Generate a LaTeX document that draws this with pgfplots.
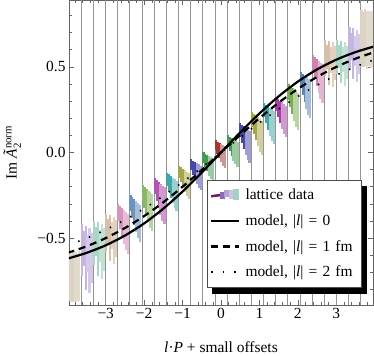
\documentclass[border=0pt]{standalone}
\usepackage{fontspec}
\setmainfont{Liberation Serif}
\usepackage{amsmath}
\usepackage{pgfplots}
\pgfplotsset{compat=1.18}

\definecolor{c0}{RGB}{150,20,20}
\definecolor{c1}{RGB}{30,140,50}
\definecolor{c2}{RGB}{40,40,150}
\definecolor{c3}{RGB}{150,150,40}
\definecolor{c4}{RGB}{30,150,150}
\definecolor{c5}{RGB}{150,30,150}
\definecolor{c6}{RGB}{100,160,50}
\definecolor{c7}{RGB}{60,110,170}
\definecolor{c8}{RGB}{190,90,150}
\definecolor{c9}{RGB}{180,140,100}
\definecolor{c10}{RGB}{100,180,150}
\definecolor{c11}{RGB}{150,120,200}
\definecolor{c12}{RGB}{190,175,145}
\definecolor{frame}{RGB}{100,100,100}

\newcommand{\fs}{\fontsize{15.5}{18}\selectfont}

\pgfplotsset{
  dat/.style={draw=none, mark=none, forget plot,
    error bars/.cd, y dir=both, y explicit, error mark=none,
    error bar style={line width=2.2bp, draw=#1, solid}},
}

\begin{document}
\begin{tikzpicture}
\useasboundingbox (-69bp,-51bp) rectangle (305bp,305bp);
\begin{axis}[
  scale only axis, width=304bp, height=305bp,
  xmin=-3.956, xmax=3.956, ymin=-0.89, ymax=0.89,
  axis line style={frame, line width=0.8bp},
  tick align=inside, major tick length=5bp, minor tick length=3bp,
  tick style={frame, line width=0.6bp},
  xtick={-3,...,3}, xticklabels={−3,−2,−1,0,1,2,3},
  ytick={-0.5,0,0.5}, yticklabels={−0.5,0.0,0.5},
  minor xtick={-3.8,-3.6,...,3.8},
  minor ytick={-0.8,-0.7,...,0.8},
  extra x ticks={-3.640,-3.323,-3.007,-2.690,-2.374,-2.057,-1.741,-1.424,-1.108,-0.791,-0.475,-0.158,
                 0.158,0.475,0.791,1.108,1.424,1.741,2.057,2.374,2.690,3.007,3.323,3.640},
  extra x tick labels={},
  extra x tick style={grid=major, major tick length=0pt,
    major grid style={black!42, line width=0.8bp}},
  tick label style={font=\fs},
  label style={font=\fs},
  xlabel={\textit{l}·\textit{P} + small offsets},
  ylabel={Im \textit{Ã}$_{\text{2}}^{\text{norm}}$},
  xlabel style={at={(axis description cs:0.5,-0.138)}, anchor=center},
  ylabel style={at={(axis description cs:-0.187,0.5)}, anchor=center},
  legend cell align=left,
  legend image code/.code={\draw[#1] (0bp,0bp) -- (28bp,0bp);},
  legend style={at={(axis description cs:0.454,0.41)}, anchor=north west,
    draw=black!70, line width=0.6bp, fill=white, font=\fs,
    inner xsep=3bp, inner ysep=7bp, row sep=9.3bp,
    text width=111bp,
    /tikz/every odd column/.append style={column sep=3bp}},
]

% lattice data, right half
\addplot[dat=c0!85] coordinates {(-0.14,0.042) +- (0,0.028) (-0.09,0.027) +- (0,0.037) (-0.04,0.012) +- (0,0.046)};
\addplot[dat=c0!45] coordinates {(0.01,-0.004) +- (0,0.054) (0.06,-0.016) +- (0,0.061) (0.11,-0.026) +- (0,0.064)};
\addplot[dat=c1!85] coordinates {(0.177,0.068) +- (0,0.032) (0.227,0.050) +- (0,0.043) (0.277,0.033) +- (0,0.053)};
\addplot[dat=c1!45] coordinates {(0.327,0.015) +- (0,0.063) (0.377,0.000) +- (0,0.070) (0.427,-0.011) +- (0,0.074)};
\addplot[dat=c2!85] coordinates {(0.493,0.130) +- (0,0.040) (0.543,0.108) +- (0,0.053) (0.593,0.086) +- (0,0.066)};
\addplot[dat=c2!45] coordinates {(0.643,0.064) +- (0,0.078) (0.693,0.046) +- (0,0.087) (0.743,0.032) +- (0,0.092)};
\addplot[dat=c3!85] coordinates {(0.810,0.191) +- (0,0.044) (0.860,0.168) +- (0,0.058) (0.910,0.144) +- (0,0.071)};
\addplot[dat=c3!45] coordinates {(0.960,0.120) +- (0,0.085) (1.010,0.100) +- (0,0.095) (1.060,0.085) +- (0,0.100)};
\addplot[dat=c4!85] coordinates {(1.126,0.248) +- (0,0.042) (1.176,0.225) +- (0,0.055) (1.226,0.202) +- (0,0.068)};
\addplot[dat=c4!45] coordinates {(1.276,0.180) +- (0,0.082) (1.326,0.160) +- (0,0.091) (1.376,0.146) +- (0,0.096)};
\addplot[dat=c5!85] coordinates {(1.443,0.280) +- (0,0.040) (1.493,0.258) +- (0,0.053) (1.543,0.236) +- (0,0.066)};
\addplot[dat=c5!45] coordinates {(1.593,0.214) +- (0,0.078) (1.643,0.196) +- (0,0.087) (1.693,0.182) +- (0,0.092)};
\addplot[dat=c6!85] coordinates {(1.759,0.353) +- (0,0.047) (1.809,0.327) +- (0,0.062) (1.859,0.301) +- (0,0.077)};
\addplot[dat=c6!45] coordinates {(1.909,0.276) +- (0,0.092) (1.959,0.254) +- (0,0.103) (2.009,0.238) +- (0,0.108)};
\addplot[dat=c7!85] coordinates {(2.076,0.423) +- (0,0.047) (2.126,0.397) +- (0,0.062) (2.176,0.371) +- (0,0.077)};
\addplot[dat=c7!45] coordinates {(2.226,0.346) +- (0,0.092) (2.276,0.324) +- (0,0.103) (2.326,0.308) +- (0,0.108)};
\addplot[dat=c8!75] coordinates {(2.392,0.521) +- (0,0.049) (2.442,0.494) +- (0,0.064) (2.492,0.468) +- (0,0.080)};
\addplot[dat=c8!45] coordinates {(2.542,0.441) +- (0,0.095) (2.592,0.419) +- (0,0.106) (2.642,0.402) +- (0,0.112)};
\addplot[dat=c9!55] coordinates {(2.709,0.552) +- (0,0.103) (2.759,0.559) +- (0,0.069) (2.809,0.522) +- (0,0.128)};
\addplot[dat=c9!40] coordinates {(2.859,0.538) +- (0,0.076) (2.909,0.511) +- (0,0.131) (2.959,0.522) +- (0,0.100)};
\addplot[dat=c10!55] coordinates {(3.025,0.556) +- (0,0.099) (3.075,0.562) +- (0,0.066) (3.125,0.527) +- (0,0.123)};
\addplot[dat=c10!40] coordinates {(3.175,0.542) +- (0,0.073) (3.225,0.516) +- (0,0.126) (3.275,0.527) +- (0,0.097)};
\addplot[dat=c11!55] coordinates {(3.342,0.610) +- (0,0.120) (3.392,0.618) +- (0,0.080) (3.442,0.575) +- (0,0.149)};
\addplot[dat=c11!40] coordinates {(3.492,0.594) +- (0,0.088) (3.542,0.562) +- (0,0.152) (3.592,0.575) +- (0,0.117)};
\addplot[dat=c12!55] coordinates {(3.658,0.665) +- (0,0.165) (3.708,0.660) +- (0,0.160) (3.758,0.670) +- (0,0.165)};
\addplot[dat=c12!45] coordinates {(3.808,0.655) +- (0,0.170) (3.858,0.665) +- (0,0.160) (3.908,0.660) +- (0,0.165) (3.950,0.660) +- (0,0.165)};

% lattice data, left half
\addplot[dat=c1!85] coordinates {(-0.457,-0.030) +- (0,0.030) (-0.407,-0.046) +- (0,0.039) (-0.357,-0.062) +- (0,0.048)};
\addplot[dat=c1!45] coordinates {(-0.307,-0.078) +- (0,0.058) (-0.257,-0.092) +- (0,0.065) (-0.207,-0.102) +- (0,0.068)};
\addplot[dat=c2!85] coordinates {(-0.773,-0.072) +- (0,0.032) (-0.723,-0.089) +- (0,0.041) (-0.673,-0.106) +- (0,0.051)};
\addplot[dat=c2!45] coordinates {(-0.623,-0.123) +- (0,0.061) (-0.573,-0.137) +- (0,0.068) (-0.523,-0.148) +- (0,0.072)};
\addplot[dat=c3!85] coordinates {(-1.090,-0.113) +- (0,0.033) (-1.040,-0.131) +- (0,0.044) (-0.990,-0.149) +- (0,0.054)};
\addplot[dat=c3!45] coordinates {(-0.940,-0.167) +- (0,0.065) (-0.890,-0.183) +- (0,0.072) (-0.840,-0.194) +- (0,0.076)};
\addplot[dat=c4!85] coordinates {(-1.406,-0.159) +- (0,0.039) (-1.356,-0.179) +- (0,0.051) (-1.306,-0.200) +- (0,0.063)};
\addplot[dat=c4!45] coordinates {(-1.256,-0.221) +- (0,0.075) (-1.206,-0.239) +- (0,0.084) (-1.156,-0.252) +- (0,0.088)};
\addplot[dat=c5!75] coordinates {(-1.723,-0.197) +- (0,0.047) (-1.673,-0.223) +- (0,0.062) (-1.623,-0.249) +- (0,0.077)};
\addplot[dat=c5!45] coordinates {(-1.573,-0.274) +- (0,0.092) (-1.523,-0.296) +- (0,0.103) (-1.473,-0.312) +- (0,0.108)};
\addplot[dat=c6!75] coordinates {(-2.039,-0.237) +- (0,0.047) (-1.989,-0.263) +- (0,0.062) (-1.939,-0.289) +- (0,0.077)};
\addplot[dat=c6!45] coordinates {(-1.889,-0.314) +- (0,0.092) (-1.839,-0.336) +- (0,0.103) (-1.789,-0.352) +- (0,0.108)};
\addplot[dat=c7!75] coordinates {(-2.356,-0.297) +- (0,0.047) (-2.306,-0.323) +- (0,0.062) (-2.256,-0.349) +- (0,0.077)};
\addplot[dat=c7!45] coordinates {(-2.206,-0.374) +- (0,0.092) (-2.156,-0.396) +- (0,0.103) (-2.106,-0.412) +- (0,0.108)};
\addplot[dat=c8!65] coordinates {(-2.672,-0.351) +- (0,0.051) (-2.622,-0.378) +- (0,0.067) (-2.572,-0.406) +- (0,0.083)};
\addplot[dat=c8!40] coordinates {(-2.522,-0.433) +- (0,0.099) (-2.472,-0.457) +- (0,0.110) (-2.422,-0.474) +- (0,0.116)};
\addplot[dat=c9!55] coordinates {(-2.989,-0.469) +- (0,0.109) (-2.939,-0.462) +- (0,0.073) (-2.889,-0.501) +- (0,0.135)};
\addplot[dat=c9!40] coordinates {(-2.839,-0.483) +- (0,0.080) (-2.789,-0.512) +- (0,0.138) (-2.739,-0.501) +- (0,0.106)};
\addplot[dat=c10!55] coordinates {(-3.305,-0.528) +- (0,0.128) (-3.255,-0.519) +- (0,0.085) (-3.205,-0.565) +- (0,0.158)};
\addplot[dat=c10!40] coordinates {(-3.155,-0.545) +- (0,0.094) (-3.105,-0.579) +- (0,0.162) (-3.055,-0.565) +- (0,0.124)};
\addplot[dat=c11!55] coordinates {(-3.622,-0.570) +- (0,0.150) (-3.572,-0.560) +- (0,0.100) (-3.522,-0.614) +- (0,0.186)};
\addplot[dat=c11!40] coordinates {(-3.472,-0.590) +- (0,0.110) (-3.422,-0.630) +- (0,0.190) (-3.372,-0.614) +- (0,0.146)};
\addplot[dat=c12!55] coordinates {(-3.950,-0.720) +- (0,0.145) (-3.938,-0.720) +- (0,0.145) (-3.888,-0.730) +- (0,0.140) (-3.838,-0.720) +- (0,0.150)};
\addplot[dat=c12!45] coordinates {(-3.788,-0.725) +- (0,0.145) (-3.738,-0.730) +- (0,0.140) (-3.688,-0.720) +- (0,0.145)};

\addlegendimage{legend image code/.code={
  \fill[c5!70!black] (0bp,-1.8bp) -- (9bp,-0.6bp) -- (9bp,1.2bp) -- (0bp,0bp) -- cycle;
  \fill[c11!90!black] (9bp,-3bp) rectangle (13bp,3bp);
  \fill[c11!70] (13bp,-1bp) rectangle (17bp,5bp);
  \fill[c11!45] (18bp,-3bp) rectangle (21bp,5bp);
  \fill[c10!60] (22bp,-4bp) rectangle (27bp,6bp);
  \path (28bp,0bp);
}}
\addlegendentry{lattice data}

% model curves
\addplot[black, line width=2.2bp, smooth] coordinates {
  (-4,-0.6197) (-3.5,-0.5858) (-3,-0.5415) (-2.5,-0.4846) (-2,-0.4136) (-1.5,-0.3276) (-1,-0.2277) (-0.5,-0.1169)
  (0,0) (0.5,0.1169) (1,0.2277) (1.5,0.3276) (2,0.4136) (2.5,0.4846) (3,0.5415) (3.5,0.5858) (4,0.6197)};
\addlegendentry{model, |\textit{l}| = 0}
\addplot[black, line width=2.2bp, smooth, dash pattern=on 7bp off 5bp] coordinates {
  (-4,-0.5864) (-3.5,-0.5476) (-3,-0.4994) (-2.5,-0.4408) (-2,-0.3711) (-1.5,-0.2903) (-1,-0.1998) (-0.5,-0.1019)
  (0,0) (0.5,0.1019) (1,0.1998) (1.5,0.2903) (2,0.3711) (2.5,0.4408) (3,0.4994) (3.5,0.5476) (4,0.5864)};
\addlegendentry{model, |\textit{l}| = 1 fm}
\addplot[black, line width=1.6bp, smooth, dash pattern=on 1.5bp off 10bp] coordinates {
  (-4,-0.5422) (-3.5,-0.5004) (-3,-0.4508) (-2.5,-0.3930) (-2,-0.3270) (-1.5,-0.2533) (-1,-0.1729) (-0.5,-0.0878)
  (0,0) (0.5,0.0878) (1,0.1729) (1.5,0.2533) (2,0.3270) (2.5,0.3930) (3,0.4508) (3.5,0.5004) (4,0.5422)};
\addlegendentry{model, |\textit{l}| = 2 fm}

% legend drop shadow
\fill[black] (axis description cs:0.470,0.390) rectangle (axis description cs:0.980,0.036);
\end{axis}
\end{tikzpicture}
\end{document}
